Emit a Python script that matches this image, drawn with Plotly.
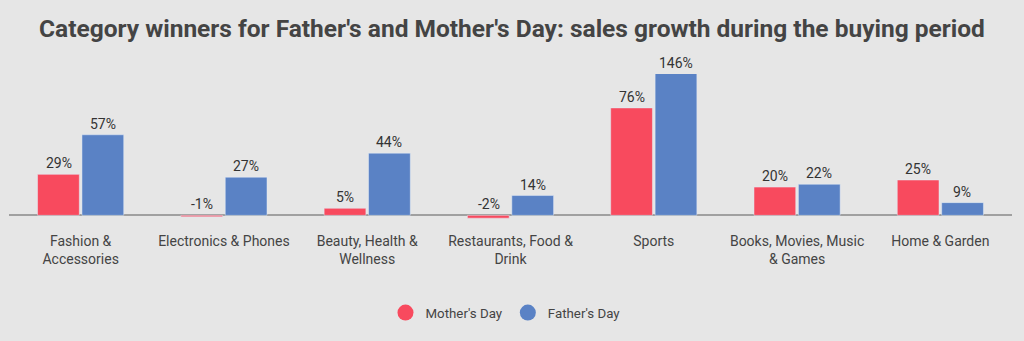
import plotly.graph_objects as go

categories = ["Fashion &<br>Accessories", "Electronics & Phones", "Beauty, Health &<br>Wellness",
              "Restaurants, Food &<br>Drink", "Sports", "Books, Movies, Music<br>& Games", "Home & Garden"]
mothers_day = [29, -1, 5, -2, 76, 20, 25]
fathers_day = [57, 27, 44, 14, 146, 22, 9]

Y_MIN, Y_MAX = -4, 100  # axis is capped at 100%: the 146% bar is clipped

RED = "#f84a5e"
BLUE = "#5a82c5"
BG = "#e6e6e6"

fig = go.Figure()
fig.add_trace(go.Bar(x=categories, y=mothers_day, name="Mother's Day", marker_color=RED,
                     showlegend=False, hoverinfo="skip"))
fig.add_trace(go.Bar(x=categories, y=fathers_day, name="Father's Day", marker_color=BLUE,
                     showlegend=False, hoverinfo="skip"))
# legend-only circle markers
fig.add_trace(go.Scatter(x=[None], y=[None], mode="markers", name="Mother's Day",
                         marker=dict(symbol="circle", size=20, color=RED)))
fig.add_trace(go.Scatter(x=[None], y=[None], mode="markers", name="Father's Day",
                         marker=dict(symbol="circle", size=20, color=BLUE)))

annotations = []
for series, shift in ((mothers_day, -22), (fathers_day, 22)):
    for c, v in zip(categories, series):
        annotations.append(dict(x=c, y=min(max(v, 0), Y_MAX), xref="x", yref="y", text=f"{v}%",
                                showarrow=False, yanchor="bottom", xshift=shift, yshift=1,
                                font=dict(family="Roboto", size=14, color="#333333")))

fig.update_layout(
    width=1024, height=341,
    paper_bgcolor=BG, plot_bgcolor=BG,
    margin=dict(l=9, r=12, t=74, b=120),
    barmode="group", bargap=0.38, bargroupgap=0.06,
    title=dict(text="<b>Category winners for Father's and Mother's Day: sales growth during the buying period</b>",
               x=0.5, xanchor="center", y=0.918, yanchor="middle",
               font=dict(family="Roboto", size=24.5, color="#444444")),
    font=dict(family="Roboto", size=14, color="#444444"),
    xaxis=dict(showgrid=False, showline=False, ticks="outside", ticklen=7, tickcolor=BG,
               tickfont=dict(size=14, color="#444444"), fixedrange=True),
    yaxis=dict(range=[Y_MIN, Y_MAX], showgrid=False, showticklabels=False, zeroline=True,
               zerolinecolor="#a0a0a0", zerolinewidth=1.5, fixedrange=True),
    legend=dict(orientation="h", x=0.495, xanchor="center", y=-0.52, yanchor="top",
                font=dict(size=13.3, color="#444444"), itemsizing="trace", bgcolor="rgba(0,0,0,0)"),
    annotations=annotations,
)

fig.write_html("out.html")
